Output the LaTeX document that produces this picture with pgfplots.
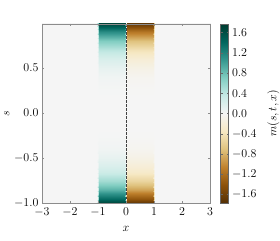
\documentclass[border=0pt]{standalone}
\usepackage{pgfplots}
\pgfplotsset{compat=1.18}
\pgfplotsset{colormap={BrBG}{rgb255=(84,48,5) rgb255=(140,81,10) rgb255=(191,129,45) rgb255=(223,194,125) rgb255=(246,232,195) rgb255=(245,245,245) rgb255=(199,234,229) rgb255=(128,205,193) rgb255=(53,151,143) rgb255=(1,102,94) rgb255=(0,60,48)}}
\begin{document}
\begin{tikzpicture}
\path[use as bounding box] (0,0) rectangle (280pt,240pt);
\begin{axis}[
  at={(42pt,37pt)}, anchor=south west,
  scale only axis, width=168pt, height=179pt,
  xmin=-3, xmax=3, ymin=-1, ymax=0.99,
  xtick={-3,-2,-1,0,1,2,3},
  ytick={-1,-0.5,0,0.5},
  tick label style={font=\fontsize{12.5}{14}\selectfont},
  label style={font=\fontsize{12.5}{14}\selectfont},
  yticklabel style={/pgf/number format/.cd, fixed, fixed zerofill, precision=1},
  xticklabel style={yshift=-1pt},
  xlabel={$x$}, ylabel={$s$},
  xlabel style={yshift=-3pt},
  ylabel style={yshift=-2pt},
  axis line style={black!45},
  tick style={black!45},
  tick align=inside, major tick length=2pt,
  axis on top,
  colormap name=BrBG,
  point meta min=-1.77, point meta max=1.77,
  colorbar,
  colorbar style={
    at={(parent axis.north east)}, anchor=north west, xshift=2pt,
    width=8pt,
    ytick={-1.6,-1.2,-0.8,-0.4,0,0.4,0.8,1.2,1.6},
    yticklabel style={font=\fontsize{12.5}{14}\selectfont, /pgf/number format/.cd, fixed, fixed zerofill, precision=1},
    ylabel={$m(s,t,x)$},
    ylabel style={font=\fontsize{12.5}{14}\selectfont, yshift=-4pt},
    axis line style={black!60},
    tick style={black!60},
    major tick length=2pt,
  },
]
\addplot[surf, shader=interp, point meta=explicit] table[x=x, y=y, meta=m] {
x y m
-3 -1.0 0
-1.06 -1.0 0
-1.01 -1.0 0.68
-0.95 -1.0 1.70
-0.05 -1.0 1.70
0 -1.0 0
0.05 -1.0 -1.70
0.95 -1.0 -1.70
1.0 -1.0 -0.68
1.05 -1.0 0
3 -1.0 0

-3 -0.95 0
-1.05 -0.95 0
-1.0 -0.95 0.55
-0.95 -0.95 1.38
-0.05 -0.95 1.38
0 -0.95 0
0.05 -0.95 -1.38
0.95 -0.95 -1.38
1.0 -0.95 -0.55
1.05 -0.95 0
3 -0.95 0

-3 -0.9 0
-1.05 -0.9 0
-1.0 -0.9 0.45
-0.95 -0.9 1.12
-0.05 -0.9 1.12
0 -0.9 0
0.05 -0.9 -1.12
0.95 -0.9 -1.12
1.0 -0.9 -0.45
1.05 -0.9 0
3 -0.9 0

-3 -0.85 0
-1.05 -0.85 0
-1.0 -0.85 0.35
-0.95 -0.85 0.89
-0.05 -0.85 0.89
0 -0.85 0
0.05 -0.85 -0.89
0.95 -0.85 -0.89
1.0 -0.85 -0.35
1.05 -0.85 0
3 -0.85 0

-3 -0.8 0
-1.05 -0.8 0
-1.0 -0.8 0.28
-0.95 -0.8 0.70
-0.05 -0.8 0.70
0 -0.8 0
0.05 -0.8 -0.70
0.95 -0.8 -0.70
1.0 -0.8 -0.28
1.05 -0.8 0
3 -0.8 0

-3 -0.75 0
-1.05 -0.75 0
-1.0 -0.75 0.22
-0.95 -0.75 0.54
-0.05 -0.75 0.54
0 -0.75 0
0.05 -0.75 -0.54
0.95 -0.75 -0.54
1.0 -0.75 -0.22
1.05 -0.75 0
3 -0.75 0

-3 -0.7 0
-1.05 -0.7 0
-1.0 -0.7 0.16
-0.95 -0.7 0.41
-0.05 -0.7 0.41
0 -0.7 0
0.05 -0.7 -0.41
0.95 -0.7 -0.41
1.0 -0.7 -0.16
1.05 -0.7 0
3 -0.7 0

-3 -0.65 0
-1.05 -0.65 0
-1.0 -0.65 0.12
-0.95 -0.65 0.30
-0.05 -0.65 0.30
0 -0.65 0
0.05 -0.65 -0.30
0.95 -0.65 -0.30
1.0 -0.65 -0.12
1.05 -0.65 0
3 -0.65 0

-3 -0.6 0
-1.05 -0.6 0
-1.0 -0.6 0.09
-0.95 -0.6 0.22
-0.05 -0.6 0.22
0 -0.6 0
0.05 -0.6 -0.22
0.95 -0.6 -0.22
1.0 -0.6 -0.09
1.05 -0.6 0
3 -0.6 0

-3 -0.5 0
-1.05 -0.5 0
-1.0 -0.5 0.04
-0.95 -0.5 0.11
-0.05 -0.5 0.11
0 -0.5 0
0.05 -0.5 -0.11
0.95 -0.5 -0.11
1.0 -0.5 -0.04
1.05 -0.5 0
3 -0.5 0

-3 -0.4 0
-1.05 -0.4 0
-1.0 -0.4 0.02
-0.95 -0.4 0.04
-0.05 -0.4 0.04
0 -0.4 0
0.05 -0.4 -0.04
0.95 -0.4 -0.04
1.0 -0.4 -0.02
1.05 -0.4 0
3 -0.4 0

-3 -0.3 0
-1.05 -0.3 0
-1.0 -0.3 0.01
-0.95 -0.3 0.014
-0.05 -0.3 0.014
0 -0.3 0
0.05 -0.3 -0.014
0.95 -0.3 -0.014
1.0 -0.3 -0.01
1.05 -0.3 0
3 -0.3 0

-3 -0.2 0
-1.05 -0.2 0
-1.0 -0.2 0
-0.95 -0.2 0.003
-0.05 -0.2 0.003
0 -0.2 0
0.05 -0.2 -0.003
0.95 -0.2 -0.003
1.0 -0.2 0
1.05 -0.2 0
3 -0.2 0

-3 0 0
-1.05 0 0
-1.0 0 0
-0.95 0 0
-0.05 0 0
0 0 0
0.05 0 0
0.95 0 0
1.0 0 0
1.05 0 0
3 0 0

-3 0.2 0
-1.05 0.2 0
-1.0 0.2 0
-0.95 0.2 0.003
-0.05 0.2 0.003
0 0.2 0
0.05 0.2 -0.003
0.95 0.2 -0.003
1.0 0.2 0
1.05 0.2 0
3 0.2 0

-3 0.3 0
-1.05 0.3 0
-1.0 0.3 0.01
-0.95 0.3 0.014
-0.05 0.3 0.014
0 0.3 0
0.05 0.3 -0.014
0.95 0.3 -0.014
1.0 0.3 -0.01
1.05 0.3 0
3 0.3 0

-3 0.4 0
-1.05 0.4 0
-1.0 0.4 0.02
-0.95 0.4 0.04
-0.05 0.4 0.04
0 0.4 0
0.05 0.4 -0.04
0.95 0.4 -0.04
1.0 0.4 -0.02
1.05 0.4 0
3 0.4 0

-3 0.5 0
-1.05 0.5 0
-1.0 0.5 0.04
-0.95 0.5 0.11
-0.05 0.5 0.11
0 0.5 0
0.05 0.5 -0.11
0.95 0.5 -0.11
1.0 0.5 -0.04
1.05 0.5 0
3 0.5 0

-3 0.6 0
-1.05 0.6 0
-1.0 0.6 0.09
-0.95 0.6 0.22
-0.05 0.6 0.22
0 0.6 0
0.05 0.6 -0.22
0.95 0.6 -0.22
1.0 0.6 -0.09
1.05 0.6 0
3 0.6 0

-3 0.65 0
-1.05 0.65 0
-1.0 0.65 0.12
-0.95 0.65 0.30
-0.05 0.65 0.30
0 0.65 0
0.05 0.65 -0.30
0.95 0.65 -0.30
1.0 0.65 -0.12
1.05 0.65 0
3 0.65 0

-3 0.7 0
-1.05 0.7 0
-1.0 0.7 0.16
-0.95 0.7 0.41
-0.05 0.7 0.41
0 0.7 0
0.05 0.7 -0.41
0.95 0.7 -0.41
1.0 0.7 -0.16
1.05 0.7 0
3 0.7 0

-3 0.75 0
-1.05 0.75 0
-1.0 0.75 0.22
-0.95 0.75 0.54
-0.05 0.75 0.54
0 0.75 0
0.05 0.75 -0.54
0.95 0.75 -0.54
1.0 0.75 -0.22
1.05 0.75 0
3 0.75 0

-3 0.8 0
-1.05 0.8 0
-1.0 0.8 0.28
-0.95 0.8 0.70
-0.05 0.8 0.70
0 0.8 0
0.05 0.8 -0.70
0.95 0.8 -0.70
1.0 0.8 -0.28
1.05 0.8 0
3 0.8 0

-3 0.85 0
-1.05 0.85 0
-1.0 0.85 0.35
-0.95 0.85 0.89
-0.05 0.85 0.89
0 0.85 0
0.05 0.85 -0.89
0.95 0.85 -0.89
1.0 0.85 -0.35
1.05 0.85 0
3 0.85 0

-3 0.9 0
-1.05 0.9 0
-1.0 0.9 0.45
-0.95 0.9 1.12
-0.05 0.9 1.12
0 0.9 0
0.05 0.9 -1.12
0.95 0.9 -1.12
1.0 0.9 -0.45
1.05 0.9 0
3 0.9 0

-3 0.95 0
-1.05 0.95 0
-1.0 0.95 0.55
-0.95 0.95 1.38
-0.05 0.95 1.38
0 0.95 0
0.05 0.95 -1.38
0.95 0.95 -1.38
1.0 0.95 -0.55
1.05 0.95 0
3 0.95 0

-3 1.0 0
-1.06 1.0 0
-1.01 1.0 0.68
-0.95 1.0 1.70
-0.05 1.0 1.70
0 1.0 0
0.05 1.0 -1.70
0.95 1.0 -1.70
1.0 1.0 -0.68
1.05 1.0 0
3 1.0 0
};
\addplot[black!75, line width=0.9pt, dash pattern=on 2.5pt off 1.5pt] coordinates {(0,-1) (0,1)};
\end{axis}
\end{tikzpicture}
\end{document}
